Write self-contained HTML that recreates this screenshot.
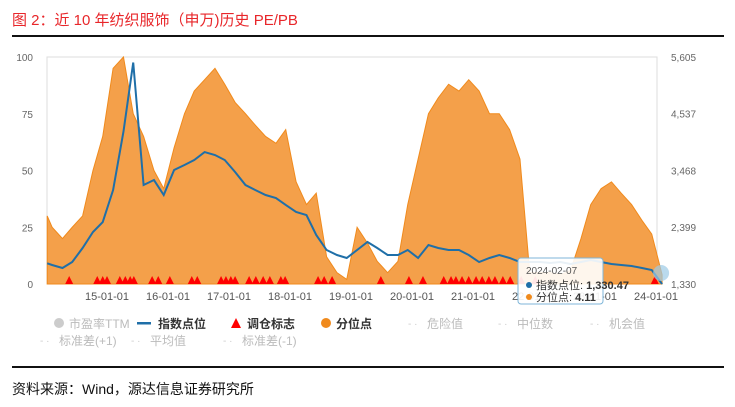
<!DOCTYPE html>
<html><head><meta charset="utf-8">
<style>
body{margin:0;background:#fff;width:735px;height:407px;overflow:hidden;font-family:"Liberation Sans","Noto Sans CJK SC",sans-serif;position:relative}
.title{position:absolute;left:12px;top:9px;font-size:15px;color:#e8262a}
.rule{position:absolute;left:12px;width:712px;height:1.5px;background:#111}
.src{position:absolute;left:12px;top:379px;font-size:14px;color:#111}
</style></head><body>
<div class="title">图 2：近 10 年纺织服饰（申万)历史 PE/PB</div>
<div class="rule" style="top:35px"></div>
<div class="rule" style="top:366px"></div>
<div class="src">资料来源：Wind，源达信息证券研究所</div>
<svg id="c" width="735" height="407" style="position:absolute;left:0;top:0"></svg>
<script>
const years=[2014.02,2014.1,2014.27,2014.43,2014.6,2014.77,2014.93,2015.1,2015.27,2015.43,2015.6,2015.77,2015.93,2016.1,2016.27,2016.43,2016.6,2016.77,2016.93,2017.1,2017.27,2017.43,2017.6,2017.77,2017.93,2018.1,2018.27,2018.43,2018.6,2018.77,2018.93,2019.1,2019.27,2019.43,2019.6,2019.77,2019.93,2020.1,2020.27,2020.43,2020.6,2020.77,2020.93,2021.1,2021.27,2021.43,2021.6,2021.77,2021.93,2022.1,2022.27,2022.43,2022.6,2022.77,2022.93,2023.1,2023.27,2023.43,2023.6,2023.77,2023.93,2024.1];
const pct=[30,25,20,25,30,50,65,95,100,75,65,50,42,60,75,85,90,95,88,80,75,70,65,62,68,45,35,40,12,5,2,25,18,10,5,10,35,55,75,82,88,85,90,85,75,75,68,55,5,5,5,4,6,20,35,42,45,40,35,28,22,4.11];
const idx=[1720,1688,1631,1744,2008,2309,2497,3100,4200,5500,3194,3288,3006,3477,3571,3665,3815,3759,3665,3439,3194,3100,3006,2949,2818,2686,2629,2253,1970,1876,1820,1970,2121,2008,1876,1876,1970,1820,2064,2008,1970,1970,1876,1744,1820,1876,1820,1744,1744,1744,1725,1744,1706,1744,1782,1744,1706,1688,1669,1631,1594,1330.47];
const signals=[2014.38,2014.84,2014.93,2015.0,2015.21,2015.3,2015.38,2015.44,2015.74,2015.84,2016.03,2016.39,2016.48,2016.87,2016.95,2017.03,2017.1,2017.33,2017.44,2017.56,2017.67,2017.85,2017.92,2018.46,2018.56,2018.69,2019.49,2019.95,2020.18,2020.52,2020.64,2020.72,2020.82,2020.93,2021.05,2021.15,2021.26,2021.36,2021.49,2021.61,2021.79,2022.02,2023.98];
const leftTicks=[0,25,50,75,100];
const rightTicks=[1330,2399,3468,4537,5605];
const xTicks=["15-01-01","16-01-01","17-01-01","18-01-01","19-01-01","20-01-01","21-01-01","22-01-01","23-01-01","24-01-01"];
const L=47,R=657,T=57,B=284;
const xs=y=>107+(y-2015)*61;
const yl=v=>B-(v/100)*(B-T);
const yr=v=>B-(v-1330)/(5605-1330)*(B-T);
const svg=document.getElementById('c');const NS='http://www.w3.org/2000/svg';
function mk(t,a,txt){const e=document.createElementNS(NS,t);for(const k in a)e.setAttribute(k,a[k]);if(txt!==undefined)e.textContent=txt;svg.appendChild(e);return e;}
let fr=mk('rect',{x:L,y:T,width:R-L,height:B-T,fill:'none',stroke:'#ddd'});


leftTicks.forEach(v=>{const t=mk('text',{x:33,y:yl(v)+4,'font-size':10,fill:'#666','text-anchor':'end'},v);

});
rightTicks.forEach(v=>{const t=mk('text',{x:671,y:yr(v)+4,'font-size':10,fill:'#666'},v.toLocaleString('en-US'));

});
xTicks.forEach((s,i)=>{const x=xs(2015+i);const t=mk('text',{x:x,y:300,'font-size':11,fill:'#555','text-anchor':'middle'},s);

});
let d='M'+xs(years[0])+','+B;years.forEach((y,i)=>d+=' L'+xs(y)+','+yl(pct[i]));d+=' L'+xs(years[years.length-1])+','+B+'Z';
let a=mk('path',{d:d,fill:'#f4a04a',stroke:'#f08a1c','stroke-width':1});


let ld='';years.forEach((y,i)=>ld+=(i?' L':'M')+xs(y)+','+yr(idx[i]));
let ln=mk('path',{d:ld,fill:'none',stroke:'#1f6fa8','stroke-width':2});


signals.forEach(y=>{const x=xs(y);const p=mk('polygon',{points:`${x-4},284 ${x+4},284 ${x},276`,fill:'#f00'});

});
let hc=mk('circle',{cx:xs(2024.1)-1,cy:273,r:8,fill:'#9ccbe6',opacity:0.7});


let tb=mk('rect',{x:518,y:258,width:85,height:46,rx:3,fill:'rgba(255,255,255,0.9)',stroke:'#7fb6d9'});


mk('text',{x:526,y:274,'font-size':10,fill:'#555'},'2024-02-07');
mk('circle',{cx:529,cy:285,r:3,fill:'#1f6fa8'});
mk('text',{x:536,y:289,'font-size':11,fill:'#333'},'指数点位: ').appendChild(Object.assign(document.createElementNS(NS,'tspan'),{textContent:'1,330.47'})).setAttribute('font-weight','bold');
mk('circle',{cx:529,cy:297,r:3,fill:'#f08a1c'});
mk('text',{x:536,y:301,'font-size':11,fill:'#333'},'分位点: ').appendChild(Object.assign(document.createElementNS(NS,'tspan'),{textContent:'4.11'})).setAttribute('font-weight','bold');
const leg=[[54,327,'c','#ccc','市盈率TTM','#bbb'],[143,327,'l','#1f6fa8','指数点位','#333'],[232,327,'t','#f00','调仓标志','#333'],[321,327,'c','#f08a1c','分位点','#333'],[412,327,'d','#ccc','危险值','#bbb'],[502,327,'d','#ccc','中位数','#bbb'],[594,327,'d','#ccc','机会值','#bbb'],[44,344,'d','#ccc','标准差(+1)','#bbb'],[135,344,'d','#ccc','平均值','#bbb'],[227,344,'d','#ccc','标准差(-1)','#bbb']];
leg.forEach(([x,y,k,c,t,tc])=>{
if(k=='c')mk('circle',{cx:x+5,cy:y-4,r:5,fill:c});
if(k=='l')mk('rect',{x:x-6,y:y-5,width:14,height:2.5,fill:c});
if(k=='t')mk('polygon',{points:`${x-1},${y+1} ${x+9},${y+1} ${x+4},${y-9}`,fill:c});
if(k=='d')mk('text',{x:x-4,y:y,'font-size':10,fill:c},'- ·');
const e=mk('text',{x:x+15,y:y+1,'font-size':12,fill:tc,'font-weight':tc=='#333'?'bold':'normal'},t);

});
</script>
</body></html>
